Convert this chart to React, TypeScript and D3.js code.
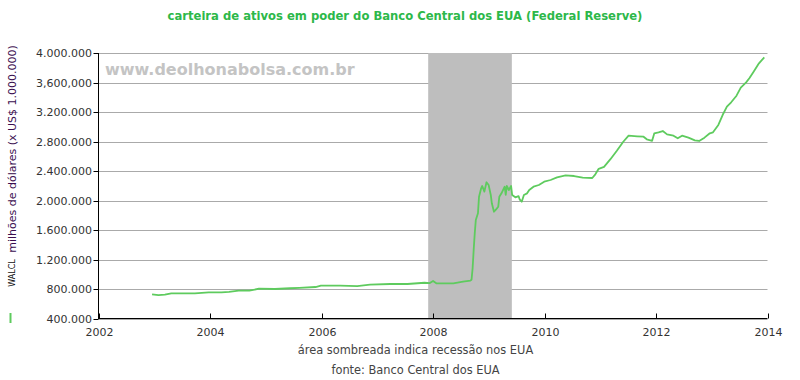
import React from "react";
import * as d3 from "d3";

const dates: string[] = [
  "2002-12-18","2003-01-29","2003-03-12","2003-04-23","2003-07-02","2003-09-24","2003-12-24",
  "2004-03-17","2004-05-05","2004-07-07","2004-09-15","2004-11-17","2005-03-02","2005-06-08",
  "2005-08-10","2005-11-23","2005-12-28","2006-05-03","2006-08-23","2006-11-15","2007-03-28",
  "2007-07-18","2007-11-07","2007-12-12","2008-01-02","2008-01-23","2008-05-14","2008-07-16",
  "2008-09-03","2008-09-10","2008-09-17","2008-09-24","2008-10-01","2008-10-08","2008-10-22",
  "2008-10-29","2008-11-12","2008-11-19","2008-12-03","2008-12-17","2008-12-31","2009-01-14",
  "2009-01-21","2009-02-04","2009-02-18","2009-03-04","2009-03-11","2009-03-25","2009-04-15",
  "2009-04-22","2009-04-29","2009-05-13","2009-05-27","2009-06-03","2009-06-24","2009-07-15",
  "2009-07-22","2009-08-05","2009-08-19","2009-09-09","2009-09-23","2009-10-21","2009-11-25",
  "2009-12-30","2010-02-10","2010-03-24","2010-05-19","2010-07-14","2010-09-08","2010-11-10",
  "2010-11-30","2010-12-22","2011-01-26","2011-03-09","2011-04-20","2011-06-01","2011-07-06",
  "2011-08-31","2011-10-12","2011-11-02","2011-12-07","2011-12-21","2012-01-18","2012-02-15",
  "2012-03-14","2012-04-25","2012-05-23","2012-06-20","2012-08-01","2012-09-12","2012-10-10",
  "2012-11-14","2012-12-19","2013-01-09","2013-02-13","2013-03-13","2013-04-10","2013-05-08",
  "2013-06-12","2013-07-10","2013-08-14","2013-09-04","2013-10-02","2013-11-06","2013-12-11",
];

const walcl: number[] = [
  728000,718000,725000,742000,740000,742000,755000,
  755000,760000,777000,777000,804000,800000,810000,
  815000,827000,845000,845000,840000,858000,868000,
  868000,885000,880000,908000,877000,877000,900000,
  915000,925000,1080000,1330000,1555000,1736000,1826000,
  2050000,2165000,2197000,2120000,2247000,2210000,2075000,
  1962000,1848000,1880000,1916000,2050000,2097000,2187000,
  2075000,2197000,2142000,2197000,2075000,2043000,2060000,
  2016000,1984000,2075000,2097000,2142000,2187000,2210000,
  2255000,2278000,2314000,2340000,2332000,2310000,2305000,
  2355000,2430000,2457000,2560000,2675000,2797000,2879000,
  2870000,2865000,2830000,2810000,2910000,2925000,2942000,
  2897000,2879000,2843000,2879000,2852000,2816000,2807000,
  2852000,2911000,2925000,3024000,3159000,3272000,3332000,
  3421000,3530000,3602000,3657000,3746000,3860000,3941000,
];

const yTicks: number[] = [400000, 800000, 1200000, 1600000, 2000000, 2400000, 2800000, 3200000, 3600000, 4000000];
const yTickLabels: string[] = ["400.000", "800.000", "1.200.000", "1.600.000", "2.000.000", "2.400.000", "2.800.000", "3.200.000", "3,600,000", "4.000.000"];
const xTickYears: number[] = [2002, 2004, 2006, 2008, 2010, 2012, 2014];
const recession: string[] = ["2007-12-01", "2009-06-01"];

const title = "carteira de ativos em poder do Banco Central dos EUA (Federal Reserve)";
const yTitle = "milhões de dólares (x US$ 1.000.000)";
const seriesName = "WALCL";
const note = "área sombreada indica recessão nos EUA";
const source = "fonte: Banco Central dos EUA";
const watermark = "www.deolhonabolsa.com.br";

export default function App() {
  const W = 800, H = 380;
  const left = 98.5, right = 767.5, top = 53, bottom = 318.5;
  const parse = d3.timeParse("%Y-%m-%d");
  const x = d3.scaleTime().domain([new Date(2002, 0, 1), new Date(2014, 0, 1)]).range([left, right]);
  const y = d3.scaleLinear().domain([400000, 4000000]).range([bottom, top]);
  const pts = dates.map((d, i) => [parse(d) as Date, walcl[i]] as [Date, number]);
  const line = d3.line<[Date, number]>().x(d => x(d[0])).y(d => y(d[1]));
  const r0 = x(parse(recession[0]) as Date), r1 = x(parse(recession[1]) as Date);
  const font = "'DejaVu Sans', Verdana, sans-serif";

  return (
    <svg width={W} height={H} style={{ position: "absolute", left: 0, top: 0, background: "#fff" }} fontFamily={font}>
      <rect x={0} y={0} width={W} height={H} fill="#fff" />
      <text x={405} y={20} textAnchor="middle" fontSize={11.6} fontWeight="bold" fill="#2db84a">{title}</text>
      {yTicks.map(t => (
        <line key={"g" + t} x1={left} x2={right} y1={Math.round(y(t)) + 0.5} y2={Math.round(y(t)) + 0.5} stroke="#aaaaaa" strokeWidth={1} />
      ))}
      <rect x={r0} y={top} width={r1 - r0} height={bottom - top} fill="#bebebe" />
      <text x={105} y={75} fontSize={16} fontWeight="bold" fill="#c4c4c4">{watermark}</text>
      <path d={line(pts) || ""} fill="none" stroke="#5ecb5e" strokeWidth={1.8} strokeLinejoin="round" />
      <line x1={left} x2={left} y1={top} y2={bottom + 0.5} stroke="#000" strokeWidth={1} />
      {yTicks.map((t, i) => (
        <g key={"y" + t}>
          <line x1={left - 5} x2={left} y1={Math.round(y(t)) + 0.5} y2={Math.round(y(t)) + 0.5} stroke="#000" />
          <text x={92} y={y(t) + 4} textAnchor="end" fontSize={11} fill="#333">{yTickLabels[i]}</text>
        </g>
      ))}
      <line x1={left} x2={right} y1={bottom} y2={bottom} stroke="#000" strokeWidth={1} />
      {xTickYears.map(yr => {
        const xx = Math.round(x(new Date(yr, 0, 1))) + 0.5;
        return (
          <g key={"x" + yr}>
            <line x1={xx} x2={xx} y1={bottom} y2={bottom - 5} stroke="#000" />
            <text x={xx} y={336} textAnchor="middle" fontSize={11} fill="#333">{yr}</text>
          </g>
        );
      })}
      <text transform={`translate(16,149) rotate(-90)`} textAnchor="middle" fontSize={11} fill="#3a0d4f">{yTitle}</text>
      <text transform={`translate(15,273) rotate(-90)`} textAnchor="middle" fontSize={8} fill="#111">{seriesName}</text>
      <line x1={10.5} x2={10.5} y1={313} y2={323} stroke="#5ecb5e" strokeWidth={2} />
      <text x={415.5} y={354} textAnchor="middle" fontSize={11.4} fill="#444">{note}</text>
      <text x={415.5} y={374} textAnchor="middle" fontSize={11.4} fill="#444">{source}</text>
    </svg>
  );
}
